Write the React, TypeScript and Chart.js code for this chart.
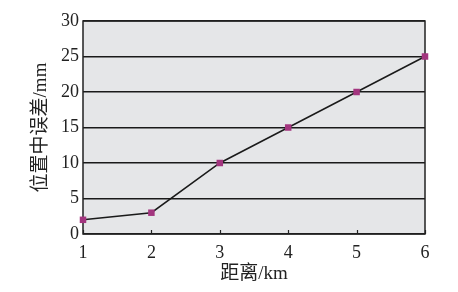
import React, { useEffect, useRef } from "react";
import { Chart, registerables } from "chart.js";

Chart.register(...registerables);

const distances = [1, 2, 3, 4, 5, 6];
const errors = [2, 3, 10, 15, 20, 25];
const xTitle = "距离/km";
const yTitle = "位置中误差/mm";

const FONT = '"Liberation Serif", "Noto Sans CJK SC", serif';

const bgPlugin = {
  id: "plotBg",
  beforeDraw(chart: any) {
    const { ctx, chartArea } = chart;
    ctx.save();
    ctx.fillStyle = "#e5e6e8";
    ctx.fillRect(chartArea.left, chartArea.top, chartArea.right - chartArea.left, chartArea.bottom - chartArea.top);
    ctx.restore();
  },
};

const frameTicksPlugin = {
  id: "frameTicks",
  beforeDatasetsDraw(chart: any) {
    const { ctx, chartArea, scales } = chart;
    const xs = scales.x;
    ctx.save();
    ctx.strokeStyle = "#222";
    ctx.lineWidth = 1.2;
    distances.forEach((d) => {
      const px = Math.round(xs.getPixelForValue(d)) + 0.5;
      ctx.beginPath();
      ctx.moveTo(px, chartArea.bottom);
      ctx.lineTo(px, chartArea.bottom - 4);
      ctx.stroke();
    });
    ctx.lineWidth = 1.5;
    ctx.strokeRect(chartArea.left, chartArea.top, chartArea.right - chartArea.left, chartArea.bottom - chartArea.top);
    ctx.restore();
  },
};

export default function App() {
  const ref = useRef<HTMLCanvasElement | null>(null);
  useEffect(() => {
    document.body.style.margin = "0";
    const chart = new Chart(ref.current as HTMLCanvasElement, {
      type: "line",
      data: {
        datasets: [
          {
            data: distances.map((d, i) => ({ x: d, y: errors[i] })),
            borderColor: "#1a1a1a",
            borderWidth: 1.5,
            pointStyle: "rect",
            pointRadius: 4.6,
            pointBackgroundColor: "#a3357f",
            pointBorderColor: "#a3357f",
            pointBorderWidth: 0,
            tension: 0,
            clip: false,
          },
        ],
      },
      options: {
        animation: false,
        responsive: false,
        plugins: { legend: { display: false }, tooltip: { enabled: false } },
        layout: { padding: { top: 21, right: 33, left: 0, bottom: 0 } },
        scales: {
          x: {
            type: "linear",
            min: 1,
            max: 6,
            ticks: { stepSize: 1, color: "#222", font: { family: FONT, size: 18 }, padding: 0 },
            grid: { display: false },
            border: { display: false },
            title: { display: true, text: xTitle, color: "#222", font: { family: FONT, size: 19 }, padding: { top: 0, bottom: 7 } },
            afterFit(s: any) {
              s.height = 58;
            },
          },
          y: {
            min: 0,
            max: 30,
            ticks: { stepSize: 5, color: "#222", font: { family: FONT, size: 18 }, padding: 4 },
            grid: { color: "#1a1a1a", lineWidth: 1.5, drawTicks: false },
            border: { display: false },
            title: { display: true, text: yTitle, color: "#222", font: { family: FONT, size: 19 }, padding: { top: 30, bottom: 0 } },
            afterFit(s: any) {
              s.width = 83;
            },
          },
        },
      },
      plugins: [bgPlugin, frameTicksPlugin],
    } as any);
    return () => chart.destroy();
  }, []);
  return <canvas ref={ref} width={458} height={292} style={{ display: "block" }} />;
}
